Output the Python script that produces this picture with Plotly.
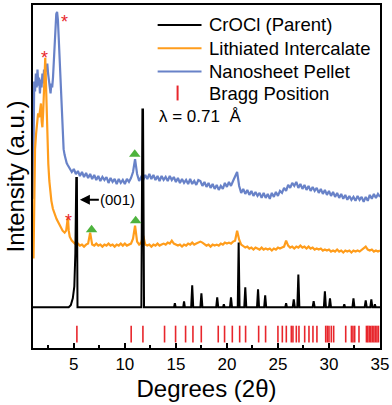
import numpy as np
import plotly.graph_objects as go

# ---- data (y = arbitrary intensity units, offset stacks) ----
# CrOCl parent: stick-like pattern on a flat baseline
black_x = [1.0, 4.5, 4.7, 4.9, 5.05, 5.15, 5.24, 5.3, 5.36,
           11.62, 11.72, 11.78, 11.88,
           14.82, 14.9, 14.98, 15.72, 15.8, 15.88, 16.5, 16.6, 16.7,
           17.4, 17.5, 17.6, 18.95, 19.05, 19.15, 19.62, 19.7, 19.78,
           20.3, 20.4, 20.5, 21.06, 21.15, 21.24, 21.7, 21.8, 21.9,
           22.95, 23.05, 23.15, 23.65, 23.75, 23.85, 25.72, 25.8, 25.88,
           26.45, 26.55, 26.65, 26.9, 27.0, 27.1, 28.4, 28.5, 28.6,
           29.5, 29.6, 29.7, 30.0, 30.1, 30.2, 31.42, 31.5, 31.58,
           32.3, 32.4, 32.5, 33.5, 33.6, 33.7, 34.05, 34.15, 34.25,
           34.42, 34.5, 34.58, 35.0]
black_y = [41, 41, 43, 50, 62, 95, 171, 171, 41,
           41, 240, 240, 41,
           41, 45, 41, 41, 47, 41, 41, 63, 41,
           41, 55, 41, 41, 51, 41, 41, 44, 41,
           41, 51, 41, 41, 106, 41, 41, 61, 41,
           41, 59, 41, 41, 53, 41, 41, 45, 41,
           41, 49, 41, 41, 74, 41, 41, 47, 41,
           41, 57, 41, 41, 50, 41, 41, 44, 41,
           41, 50, 41, 41, 48, 41, 41, 49, 41,
           41, 44, 41, 41]

# lithiated intercalate, low-angle part
orange_x_low = [1.05, 1.12, 1.2, 1.3, 1.4, 1.5, 1.6, 1.7, 1.78, 1.85, 1.92, 2.0,
                2.08, 2.15, 2.2, 2.26, 2.33, 2.4, 2.5, 2.6, 2.7, 2.8, 2.95, 3.1,
                3.3, 3.5, 3.7, 3.9, 4.1, 4.25, 4.35, 4.42, 4.5, 4.6, 4.8]
orange_y_low = [90, 150, 200, 215, 228, 236, 232, 240, 246, 228, 222, 238,
                262, 285, 292, 270, 238, 210, 185, 168, 156, 148, 140, 135,
                130, 126, 122, 118, 116, 118, 126, 132, 118, 112, 108]
# 5.0 .. 35.0 every 0.2 deg
orange_y_tail = [106, 104, 105, 103, 104, 102, 104, 105, 116, 104,
                 103, 105, 103, 104, 102, 104, 103, 105, 103, 104,
                 102, 104, 103, 105, 103, 105, 103, 104, 105, 110,
                 123, 107, 104, 106, 113, 104, 103, 104, 102, 104,
                 103, 105, 103, 104, 105, 104, 106, 105, 108, 105,
                 104, 103, 104, 102, 104, 103, 105, 104, 106, 104,
                 105, 106, 107, 106, 104, 103, 104, 102, 104, 103,
                 104, 103, 105, 104, 106, 105, 106, 105, 107, 108,
                 118, 109, 104, 102, 101, 102, 100, 101, 99, 101,
                 100, 99, 101, 99, 100, 99, 100, 98, 100, 99,
                 101, 100, 101, 102, 108, 103, 101, 102, 100, 102,
                 101, 103, 101, 102, 100, 102, 100, 101, 99, 100,
                 99, 100, 98, 99, 98, 99, 97, 98, 97, 99,
                 97, 98, 96, 98, 97, 98, 96, 98, 97, 98,
                 97, 99, 100, 102, 99, 98, 99, 97, 98, 97,
                 98]

# nanosheet pellet, low-angle part
blue_x_low = [1.0, 1.06, 1.12, 1.2, 1.28, 1.36, 1.44, 1.52, 1.6, 1.68, 1.76,
              1.84, 1.92, 2.0, 2.08, 2.16, 2.24, 2.32, 2.4, 2.48, 2.56, 2.64,
              2.72, 2.8, 2.88, 2.96, 3.04, 3.12, 3.2, 3.28, 3.36, 3.44, 3.52,
              3.6, 3.68, 3.76, 3.84, 3.92, 4.0, 4.1, 4.2, 4.3, 4.4, 4.5]
blue_y_low = [150, 215, 268, 258, 276, 262, 280, 264, 272, 256, 270,
              262, 276, 266, 280, 270, 284, 278, 286, 276, 268, 262,
              256, 266, 262, 272, 288, 312, 328, 336, 338, 330, 312,
              290, 272, 250, 226, 210, 200, 194, 189, 186, 184, 182]
# 4.6 .. 35.0 every 0.2 deg
blue_y_tail = [181, 177, 180, 175, 178, 173, 177, 172, 176, 171,
               175, 170, 174, 169, 173, 168, 172, 169, 172, 166,
               171, 167, 170, 165, 170, 166, 169, 165, 170, 167,
               171, 177, 190, 175, 168, 172, 169, 174, 170, 175,
               170, 174, 169, 173, 168, 173, 169, 172, 168, 173,
               169, 172, 167, 171, 166, 170, 166, 169, 165, 170,
               165, 168, 164, 169, 168, 163, 167, 162, 166, 161,
               165, 160, 164, 159, 163, 160, 166, 162, 167, 163,
               168, 172, 177, 163, 156, 160, 155, 159, 154, 158,
               153, 157, 153, 156, 151, 156, 151, 155, 150, 156,
               152, 157, 153, 158, 156, 161, 158, 164, 161, 166,
               163, 167, 161, 165, 160, 164, 159, 163, 158, 162,
               158, 161, 156, 160, 155, 159, 154, 158, 153, 157,
               152, 156, 151, 155, 150, 154, 149, 153, 149, 152,
               148, 153, 149, 152, 147, 152, 148, 154, 150, 155,
               151, 155, 152]

bragg_pos = [5.30, 10.62, 11.77, 13.89, 14.97, 15.95, 16.67, 17.49, 19.15,
             19.77, 20.53, 21.25, 21.83, 23.11, 23.79, 25.0, 25.43, 25.82,
             26.31, 26.47, 26.8, 27.06, 27.62, 28.04, 28.43, 28.82, 29.68,
             29.84, 30.0, 30.23, 30.46, 31.64, 32.2, 32.35, 32.52, 32.94,
             33.67, 33.8, 33.95, 34.1, 34.25, 34.4, 34.55, 34.7, 34.85]
bragg_level = 14

# markers
star_x = [2.10, 4.06, 4.45]
star_y = [297, 333, 133]
tri_x = [10.97, 6.74, 11.06]
tri_y = [195, 119, 128]

names = ["CrOCl (Parent)", "Lithiated Intercalate", "Nanosheet Pellet", "Bragg Position"]

orange_x = orange_x_low + list(np.round(np.arange(5.0, 35.01, 0.2), 1))
orange_y = orange_y_low + orange_y_tail
blue_x = blue_x_low + list(np.round(np.arange(4.6, 35.01, 0.2), 1))
blue_y = blue_y_low + blue_y_tail

BLACK = "#000000"
ORANGE = "#FF9D1C"
BLUE = "#6882C8"
RED = "#E8262C"
GREEN = "#4DB33D"
FONT = "Arial, 'Liberation Sans', sans-serif"

fig = go.Figure()
fig.add_trace(go.Scatter(x=blue_x, y=blue_y, mode="lines", name=names[2],
                         line=dict(color=BLUE, width=2.2), showlegend=False))
fig.add_trace(go.Scatter(x=orange_x, y=orange_y, mode="lines", name=names[1],
                         line=dict(color=ORANGE, width=2.2), showlegend=False))
fig.add_trace(go.Scatter(x=black_x, y=black_y, mode="lines", name=names[0],
                         line=dict(color=BLACK, width=2), showlegend=False))
fig.add_trace(go.Scatter(x=bragg_pos, y=[bragg_level] * len(bragg_pos), mode="markers",
                         name=names[3], showlegend=False,
                         marker=dict(symbol="line-ns", size=12,
                                     line=dict(color=RED, width=1.6))))
fig.add_trace(go.Scatter(x=tri_x, y=tri_y, mode="markers", showlegend=False,
                         marker=dict(symbol="triangle-up", size=10, color=GREEN)))

annotations = []
for sx, sy in zip(star_x, star_y):
    annotations.append(dict(x=sx, y=sy, text="*", showarrow=False, yshift=-5,
                            font=dict(size=18, color=RED, family=FONT)))

# (001) arrow
annotations.append(dict(x=5.59, y=149, text="(001)", showarrow=True, ax=38, ay=0,
                        arrowhead=2, arrowsize=1, arrowwidth=2, arrowcolor=BLACK,
                        font=dict(size=15, color=BLACK, family=FONT)))

# hand-placed legend block (paper coords)
def px2paper(px, py):
    return (px - 33) / 348, (348 - py) / 345

shapes = []
rows = [23, 46.5, 70]
cols = [BLACK, ORANGE, BLUE]
for r, c, n in zip(rows, cols, names[:3]):
    x0, y0 = px2paper(158, r)
    x1, _ = px2paper(202, r)
    shapes.append(dict(type="line", xref="paper", yref="paper", x0=x0, x1=x1,
                       y0=y0, y1=y0, line=dict(color=c, width=2)))
    tx, ty = px2paper(207, r)
    annotations.append(dict(x=tx, y=ty, xref="paper", yref="paper", text=n,
                            showarrow=False, xanchor="left", yanchor="middle",
                            font=dict(size=18.5, color=BLACK, family=FONT)))
bx, by0 = px2paper(178, 84)
_, by1 = px2paper(178, 99)
shapes.append(dict(type="line", xref="paper", yref="paper", x0=bx, x1=bx,
                   y0=by0, y1=by1, line=dict(color=RED, width=2)))
tx, ty = px2paper(207, 92)
annotations.append(dict(x=tx, y=ty, xref="paper", yref="paper", text=names[3],
                        showarrow=False, xanchor="left", yanchor="middle",
                        font=dict(size=18.5, color=BLACK, family=FONT)))
lx, ly = px2paper(157, 115)
annotations.append(dict(x=lx, y=ly, xref="paper", yref="paper",
                        text="\u03bb = 0.71\u00a0\u00a0\u00c5",
                        showarrow=False, xanchor="left", yanchor="middle",
                        font=dict(size=17, color=BLACK, family=FONT)))

fig.update_layout(
    width=392, height=405,
    margin=dict(l=33, r=11, t=3, b=57),
    plot_bgcolor="white", paper_bgcolor="white",
    font=dict(family=FONT, color=BLACK),
    shapes=shapes, annotations=annotations,
)
fig.update_xaxes(range=[1, 35], showline=True, linewidth=2, linecolor=BLACK, mirror=True,
                 ticks="inside", ticklen=5, tickwidth=2, tickcolor=BLACK,
                 tick0=5, dtick=5, tickfont=dict(size=17),
                 minor=dict(ticks="inside", ticklen=3, tickwidth=2, tickcolor=BLACK, dtick=2.5),
                 showgrid=False, zeroline=False,
                 title=dict(text="Degrees (2\u03b8)", font=dict(size=24), standoff=7))
fig.update_yaxes(range=[0, 345], showline=True, linewidth=2, linecolor=BLACK, mirror=True,
                 ticks="", showticklabels=False, showgrid=False, zeroline=False,
                 title=dict(text="Intensity (a.u.)", font=dict(size=24), standoff=0))

fig.write_html("out.html", config={"displayModeBar": False},
               post_script="document.body.style.margin='0';")
